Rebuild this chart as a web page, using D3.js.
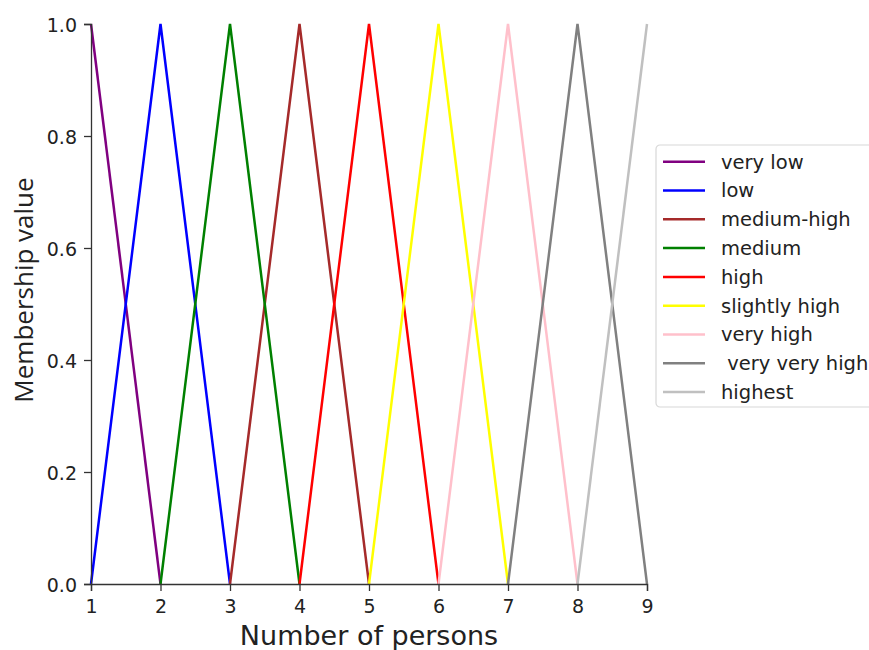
<!DOCTYPE html>
<html>
  <head>
    <title>Membership functions</title>
    <script src="https://d3js.org/d3.v7.min.js"></script>
    <style>
      body { margin: 0; background: #fff; }
      text { font-family: "DejaVu Sans", sans-serif; fill: #222; }
    </style>
  </head>
  <body>
    <div id="chart"></div>
    <script>
      // Data
      var persons = [1, 2, 3, 4, 5, 6, 7, 8, 9];
      var names = ["very low", "low", "medium-high", "medium", "high",
                   "slightly high", "very high", " very very high", "highest"];
      var colors = ["#800080", "#0000ff", "#a52a2a", "#008000", "#ff0000",
                    "#ffff00", "#ffc0cb", "#808080", "#c0c0c0"];
      var veryLow     = [1, 0, 0, 0, 0, 0, 0, 0, 0];
      var low         = [0, 1, 0, 0, 0, 0, 0, 0, 0];
      var mediumHigh  = [0, 0, 0, 1, 0, 0, 0, 0, 0];
      var medium      = [0, 0, 1, 0, 0, 0, 0, 0, 0];
      var high        = [0, 0, 0, 0, 1, 0, 0, 0, 0];
      var slightlyHigh= [0, 0, 0, 0, 0, 1, 0, 0, 0];
      var veryHigh    = [0, 0, 0, 0, 0, 0, 1, 0, 0];
      var veryVeryHigh= [0, 0, 0, 0, 0, 0, 0, 1, 0];
      var highest     = [0, 0, 0, 0, 0, 0, 0, 0, 1];
      var series = [veryLow, low, mediumHigh, medium, high,
                    slightlyHigh, veryHigh, veryVeryHigh, highest];
      var yTicks = [0, 0.2, 0.4, 0.6, 0.8, 1.0];

      var svg = d3.select("#chart")
        .append("svg")
        .attr("width", 869)
        .attr("height", 650);

      var xScale = d3.scaleLinear().domain([1, 9]).range([91, 647]);
      var yScale = d3.scaleLinear().domain([0, 1]).range([584, 24]);

      // lines, only where membership is non-zero (plus neighbouring zeros)
      var line = d3.line()
        .x(function(d) { return xScale(d[0]); })
        .y(function(d) { return yScale(d[1]); });

      series.forEach(function(vals, i) {
        var pts = [];
        persons.forEach(function(p, j) {
          var near = vals[j] > 0 || (j > 0 && vals[j - 1] > 0) || (j < vals.length - 1 && vals[j + 1] > 0);
          if (near) pts.push([p, vals[j]]);
        });
        svg.append("path")
          .datum(pts)
          .attr("d", line)
          .attr("fill", "none")
          .attr("stroke", colors[i])
          .attr("stroke-width", 2.5);
      });

      // Axes
      var xAxis = svg.append("g")
        .attr("transform", "translate(0,584)")
        .call(d3.axisBottom(xScale).tickValues(persons).tickFormat(d3.format("d")).tickSizeOuter(0).tickSize(7).tickPadding(9));
      var yAxis = svg.append("g")
        .attr("transform", "translate(91,0)")
        .call(d3.axisLeft(yScale).tickValues(yTicks).tickFormat(d3.format(".1f")).tickSizeOuter(0).tickSize(7).tickPadding(7));
      [xAxis, yAxis].forEach(function(a) {
        a.selectAll("text").style("font-size", "19px").attr("fill", "#222");
        a.selectAll("path, line").attr("stroke", "#333").attr("stroke-width", 1.3);
      });
      yAxis.selectAll("text").attr("dy", "0.37em");

      // Axis titles
      svg.append("text")
        .attr("x", 369)
        .attr("y", 645)
        .attr("text-anchor", "middle")
        .style("font-size", "27px")
        .text("Number of persons");
      svg.append("text")
        .attr("transform", "translate(33,290) rotate(-90)")
        .attr("text-anchor", "middle")
        .style("font-family", "'Open Sans', sans-serif")
        .style("font-size", "26px")
        .text("Membership value");

      // Legend
      var legend = svg.append("g").attr("transform", "translate(656,145)");
      legend.append("rect")
        .attr("width", 230)
        .attr("height", 262)
        .attr("rx", 4)
        .attr("fill", "#fff")
        .attr("stroke", "#d8d8d8")
        .attr("stroke-width", 1.2);
      names.forEach(function(n, i) {
        var yy = 16.7 + i * 28.8;
        legend.append("line")
          .attr("x1", 7).attr("x2", 49)
          .attr("y1", yy).attr("y2", yy)
          .attr("stroke", colors[i])
          .attr("stroke-width", 2.5);
        legend.append("text")
          .attr("x", 65)
          .attr("y", yy)
          .attr("dy", "0.35em")
          .style("font-size", "19.5px")
          .style("white-space", "pre")
          .attr("xml:space", "preserve")
          .text(n);
      });
    </script>
  </body>
</html>
